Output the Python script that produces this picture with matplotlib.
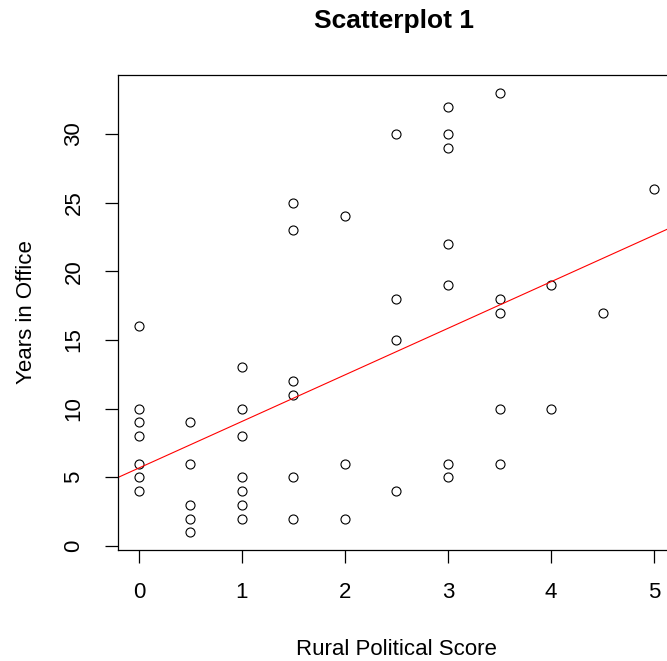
import numpy as np
import matplotlib.pyplot as plt

plt.rcParams['font.family'] = ['Liberation Sans', 'DejaVu Sans']

# rural political score (x) and years in office (y)
score = [0, 0, 0, 0, 0, 0, 0,
         0.5, 0.5, 0.5, 0.5, 0.5,
         1, 1, 1, 1, 1, 1, 1,
         1.5, 1.5, 1.5, 1.5, 1.5, 1.5,
         2, 2, 2,
         2.5, 2.5, 2.5, 2.5,
         3, 3, 3, 3, 3, 3, 3,
         3.5, 3.5, 3.5, 3.5, 3.5,
         4, 4,
         4.5,
         5]
years = [16, 10, 9, 8, 6, 5, 4,
         9, 6, 3, 2, 1,
         13, 10, 8, 5, 4, 3, 2,
         25, 23, 12, 11, 5, 2,
         24, 6, 2,
         30, 18, 15, 4,
         32, 30, 29, 22, 19, 6, 5,
         33, 18, 17, 10, 6,
         19, 10,
         17,
         26]

# regression line as drawn (intercept, slope)
line_coef = (5.68, 3.39)

x_ticks = [0, 1, 2, 3, 4, 5]
y_ticks = [0, 5, 10, 15, 20, 25, 30]

fig = plt.figure(figsize=(6.67, 6.61), dpi=100)
# plot region runs past the right edge of the image, as in the original
ax = fig.add_axes([0.1775, 0.1682, 0.8339, 0.718])

ax.plot(score, years, 'o', markerfacecolor='none', markeredgecolor='black',
        markersize=6.5, markeredgewidth=0.8, linestyle='none')
ax.axline((0, line_coef[0]), slope=line_coef[1], color='red', linewidth=0.8)

ax.set_xlim(-0.2, 5.2)
ax.set_ylim(-0.28, 34.28)
ax.set_xticks(x_ticks)
ax.set_yticks(y_ticks)
ax.tick_params(axis='both', length=9.4, width=0.9, labelsize=16, pad=14, direction='out')
ax.tick_params(axis='y', labelrotation=90, pad=15)
for lab in ax.get_yticklabels():
    lab.set_verticalalignment('center')

for sp in ax.spines.values():
    sp.set_linewidth(0.9)

ax.set_xlabel('Rural Political Score', fontsize=16)
ax.xaxis.set_label_coords(0.5, -0.188)
ax.set_ylabel('Years in Office', fontsize=16)
ax.yaxis.set_label_coords(-0.147, 0.5)

fig.text(393.5 / 667, 1 - 28 / 661, 'Scatterplot 1',
         fontsize=19, fontweight='bold', ha='center', va='baseline')

fig.savefig('out.png', dpi=100)
